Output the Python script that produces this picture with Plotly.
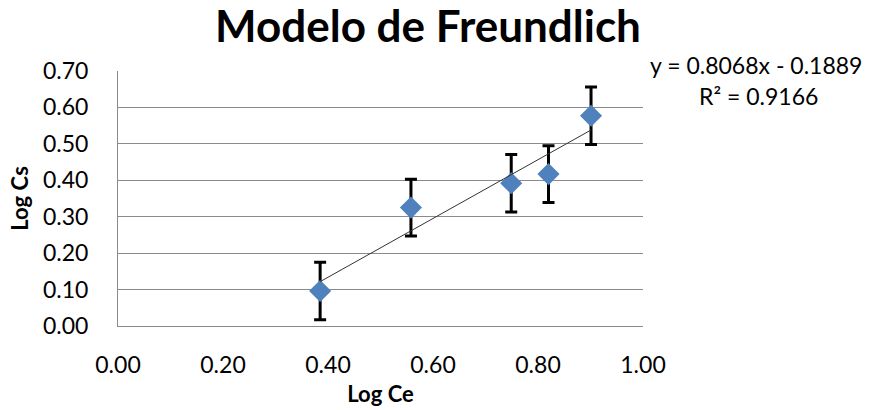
import plotly.graph_objects as go

# Data
log_ce = [0.385, 0.558, 0.749, 0.820, 0.901]
log_cs = [0.096, 0.325, 0.392, 0.417, 0.577]
err_cs = [0.079, 0.078, 0.079, 0.078, 0.079]

SLOPE = 0.8068
INTERCEPT = -0.1889
R2 = 0.9166

x_ticks = [0.0, 0.2, 0.4, 0.6, 0.8, 1.0]
y_ticks = [0.0, 0.1, 0.2, 0.3, 0.4, 0.5, 0.6, 0.7]

FONT = "Lato"
GRID = "#8a8a8a"

trend_x = [min(log_ce), max(log_ce)]
trend_y = [SLOPE * v + INTERCEPT for v in trend_x]

fig = go.Figure()
fig.add_trace(go.Scatter(
    x=log_ce, y=log_cs, mode="markers",
    marker=dict(symbol="diamond", size=17, color="#4F81BD", line=dict(width=0)),
    error_y=dict(type="data", array=err_cs, visible=True, color="black",
                 thickness=3, width=6),
    showlegend=False,
))
fig.add_trace(go.Scatter(
    x=trend_x, y=trend_y, mode="lines",
    line=dict(color="#333333", width=1), showlegend=False, hoverinfo="skip",
))

fig.update_layout(
    width=870, height=410,
    margin=dict(l=118, r=227, t=71, b=84, autoexpand=False),
    paper_bgcolor="white", plot_bgcolor="white",
    font=dict(family=FONT, color="black"),
    title=dict(text="<b>Modelo de Freundlich</b>", font=dict(family=FONT, size=44, color="black"),
               x=428 / 870, xanchor="center", xref="container",
               y=1 - 27 / 410, yanchor="middle", yref="container"),
    xaxis=dict(range=[0, 1], tickvals=x_ticks, ticktext=[f"{v:.2f}" for v in x_ticks],
               showgrid=False, zeroline=False, showline=True, linecolor=GRID, linewidth=1,
               ticks="", tickfont=dict(family=FONT, size=23, color="black"),
               ticklabelstandoff=18, automargin=False,
               title=dict(text="<b>Log Ce</b>", font=dict(family=FONT, size=22, color="black"),
                          standoff=10)),
    yaxis=dict(range=[0, 0.7], tickvals=y_ticks, ticktext=[f"{v:.2f}" for v in y_ticks],
               showgrid=True, gridcolor=GRID, gridwidth=1, zeroline=False,
               showline=True, linecolor=GRID, linewidth=1,
               ticks="", tickfont=dict(family=FONT, size=23, color="black"),
               ticklabelstandoff=24, automargin=False,
               title=dict(text="<b>Log Cs</b>", font=dict(family=FONT, size=22, color="black"),
                          standoff=8)),
)

fig.add_annotation(text=f"y = {SLOPE:.4f}x - {abs(INTERCEPT):.4f}", xref="paper", yref="paper",
                   x=(756 - 118) / 525, y=(326 - 65) / 255, xanchor="center", yanchor="middle",
                   showarrow=False, font=dict(family=FONT, size=23, color="black"))
fig.add_annotation(text=f"R² = {R2:.4f}", xref="paper", yref="paper",
                   x=(758 - 118) / 525, y=(326 - 96) / 255, xanchor="center", yanchor="middle",
                   showarrow=False, font=dict(family=FONT, size=23, color="black"))

fig.write_html("out.html")
